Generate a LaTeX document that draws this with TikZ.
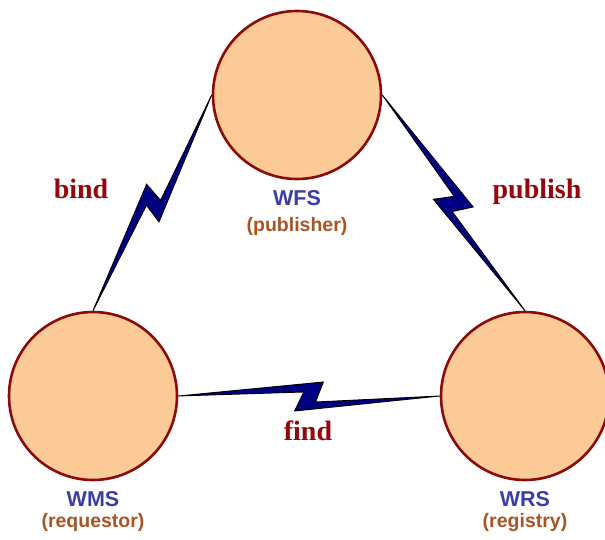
\documentclass[tikz,border=0pt]{standalone}
\usepackage{fontspec}
\setmainfont{Liberation Serif}
\setsansfont{Liberation Sans}
\usepackage{tikz}
\usetikzlibrary{calc}
\usepackage{xcolor}
\definecolor{peach}{RGB}{252,202,150}
\definecolor{rim}{RGB}{139,10,10}
\definecolor{svcblue}{RGB}{58,62,165}
\definecolor{rolebrown}{RGB}{168,84,36}
\definecolor{opred}{RGB}{150,5,10}
\definecolor{boltblue}{RGB}{0,0,128}

\begin{document}
\begin{tikzpicture}[x=1pt,y=1pt,
  svc/.style={draw=rim,line width=2.6pt,circle,fill=peach,minimum size=168pt,inner sep=0pt},
  svcname/.style={text=svcblue,font=\sffamily\bfseries\fontsize{21.5}{24}\selectfont,inner sep=0pt},
  svcrole/.style={text=rolebrown,font=\sffamily\bfseries\fontsize{19.5}{22}\selectfont,inner sep=0pt},
  op/.style={text=opred,font=\rmfamily\bfseries\fontsize{28}{32}\selectfont,anchor=base,inner sep=0pt},
  bolt/.style={fill=boltblue,draw=black,line width=0.9pt,line join=miter}]
  \useasboundingbox[fill=white] (0,0) rectangle (605,539);
  \node[svc] (wfs) at (297,444) {};
  \node[svc] (wms) at (93,143) {};
  \node[svc] (wrs) at (525,143) {};
  % names under the circles
  \node[svcname] (wfsname) at (297,341) {WFS};
  \node[svcrole] (wfsrole) at (297,313) {(publisher)};
  \node[svcname] (wmsname) at (93,40) {WMS};
  \node[svcrole] (wmsrole) at (93,17) {(requestor)};
  \node[svcname] (wrsname) at (525,40) {WRS};
  \node[svcrole] (wrsrole) at (525,17) {(registry)};
  % lightning links
  \foreach \a/\b in {wms.north/wfs.west,wfs.east/wrs.north,wms.east/wrs.west}
    \filldraw[bolt] (\a) -- ($(\a)!.555!(\b)!14pt!90:(\b)$)
      -- ($(\a)!.525!(\b)!6pt!-90:(\b)$) -- (\b)
      -- ($(\a)!.445!(\b)!15pt!-90:(\b)$)
      -- ($(\a)!.48!(\b)!4pt!90:(\b)$) -- cycle;
  \node[op] (bind) at (81,340) {bind};
  \node[op] (publish) at (537,340) {publish};
  \node[op] (find) at (308,99) {find};
\end{tikzpicture}
\end{document}
